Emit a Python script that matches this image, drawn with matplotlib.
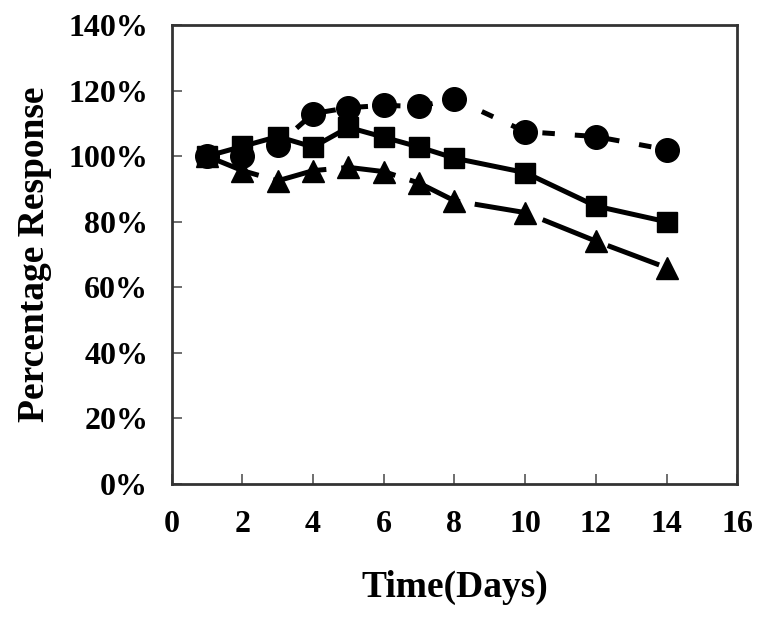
import matplotlib
matplotlib.use("Agg")
import matplotlib.pyplot as plt
from matplotlib.ticker import FuncFormatter

# days on the x axis
days = [1, 2, 3, 4, 5, 6, 7, 8, 10, 12, 14]

# percentage response for each series
circles = [100, 100, 103.5, 113, 114.8, 115.5, 115.2, 117.5, 107.5, 106, 102]
squares = [100, 103, 106, 102.8, 108.8, 105.8, 102.8, 99.4, 95, 84.8, 80]
triangles = [100, 95.6, 92.5, 95.6, 96.6, 95.3, 91.8, 86.4, 82.8, 74.1, 66]

plt.rcParams['font.family'] = ['Liberation Serif', 'DejaVu Serif']
plt.rcParams['font.weight'] = 'bold'

fig = plt.figure(figsize=(7.6, 6.27), dpi=100)
ax = fig.add_axes([0.226, 0.228, 0.744, 0.732])

lw = 3.6
ax.plot(days, circles, color='black', lw=lw, linestyle=(0, (2.5, 4)),
        marker='o', markersize=17, zorder=3)
ax.plot(days, squares, color='black', lw=lw, linestyle='-',
        marker='s', markersize=15, zorder=3)
ax.plot(days, triangles, color='black', lw=lw, linestyle=(0, (11, 3)),
        marker='^', markersize=16, zorder=3)

ax.set_xlim(0, 16)
ax.set_ylim(0, 140)
ax.set_xticks(range(0, 17, 2))
ax.set_yticks(range(0, 141, 20))
ax.yaxis.set_major_formatter(FuncFormatter(lambda v, p: '%d%%' % v))

for s in ax.spines.values():
    s.set_linewidth(2)
    s.set_color('#333333')

ax.tick_params(axis='both', direction='in', length=7, width=1.2, colors='#555555',
               labelcolor='black', labelsize=23)
ax.tick_params(axis='y', pad=17)
ax.tick_params(axis='x', pad=19)
for lab in ax.get_xticklabels() + ax.get_yticklabels():
    lab.set_fontweight('bold')

ax.set_xlabel('Time(Days)', fontsize=27, fontweight='bold', labelpad=22)
ax.set_ylabel('Percentage Response', fontsize=27, fontweight='bold', labelpad=12)

fig.savefig('out.png', dpi=100)
